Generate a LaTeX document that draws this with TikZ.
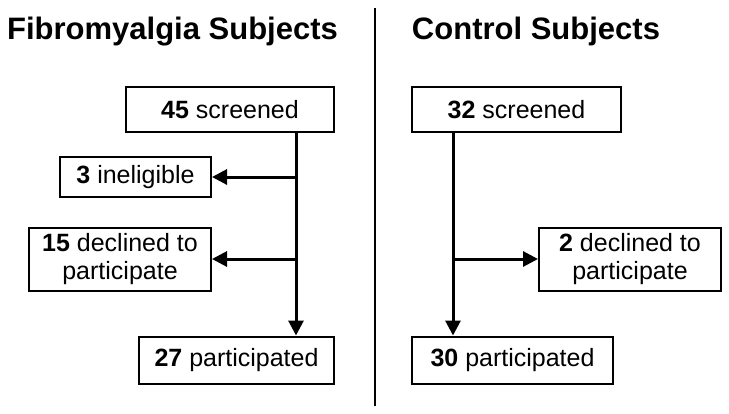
\documentclass[tikz,border=0pt]{standalone}
\usepackage{fontspec}
\setmainfont{Liberation Sans}
\usetikzlibrary{arrows.meta}
\begin{document}
\begin{tikzpicture}[x=1pt,y=-1pt,
  box/.style={draw, line width=2pt, inner sep=0pt, align=center, font=\fontsize{25}{28.5}\selectfont},
  conn/.style={line width=3pt},
  arr/.style={conn, -{Triangle[length=15pt,width=15pt]}},
  ttl/.style={font=\fontsize{31}{34}\selectfont\bfseries, inner sep=0pt, anchor=base}]
\useasboundingbox (0,0) rectangle (729,413);
\fill[white] (0,0) rectangle (729,413);
% titles
\node[ttl] (t1) at (172.5,39) {Fibromyalgia Subjects};
\node[ttl] (t2) at (536,39) {Control Subjects};
% divider
\coordinate (dt) at (375,8);
\coordinate (db) at (375,406);
\draw[line width=1.4pt] (dt) -- (db);
% left column
\node[box, minimum width=208pt, minimum height=45pt] (s1) at (230,109.5) {\textbf{45} screened};
\node[box, minimum width=151pt, minimum height=40pt] (i1) at (135.5,177) {\textbf{3} ineligible};
\node[box, minimum width=182pt, minimum height=63pt] (d1) at (120,259) {\textbf{15} declined to\\participate};
\node[box, minimum width=195pt, minimum height=47pt] (p1) at (236.5,360) {\textbf{27} participated};
\coordinate (v1) at (296,0);
\draw[arr] (s1.south -| v1) -- (p1.north -| v1);
\draw[arr] (i1.east -| v1) -- (i1.east);
\draw[arr] (d1.east -| v1) -- (d1.east);
% right column
\node[box, minimum width=209pt, minimum height=45pt] (s2) at (516.5,109.5) {\textbf{32} screened};
\node[box, minimum width=182pt, minimum height=63pt] (d2) at (630,259) {\textbf{2} declined to\\participate};
\node[box, minimum width=201pt, minimum height=47pt] (p2) at (512.5,360) {\textbf{30} participated};
\coordinate (v2) at (453,0);
\draw[arr] (s2.south -| v2) -- (p2.north -| v2);
\draw[arr] (d2.west -| v2) -- (d2.west);
\end{tikzpicture}
\end{document}
